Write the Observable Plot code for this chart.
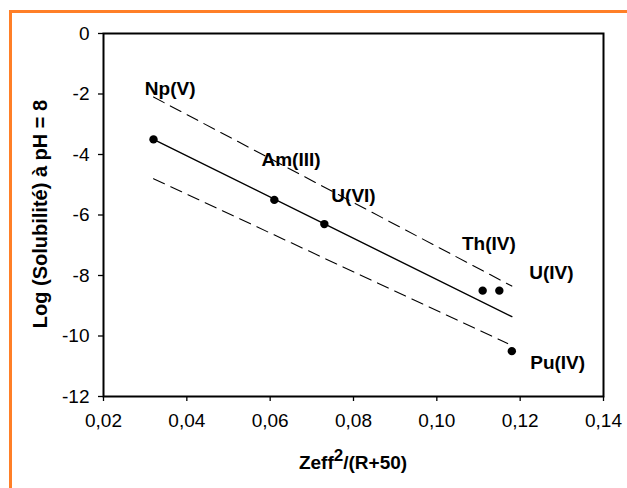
<!DOCTYPE html>
<html>
<head>
<meta charset="utf-8">
<script src="https://cdn.jsdelivr.net/npm/d3@7"></script>
<script src="https://cdn.jsdelivr.net/npm/@observablehq/plot@0.6"></script>
<style>
  html, body { margin: 0; padding: 0; background: #fff; }
  #wrap { position: relative; width: 627px; height: 488px; overflow: hidden; }
  #border { position: absolute; left: 9px; top: 10px; right: -10px; bottom: -10px;
            border-left: 3px solid #ff7f27; border-top: 3px solid #ff7f27; }
  #chart { position: absolute; left: 0; top: 0; }
</style>
</head>
<body>
<div id="wrap"><div id="border"></div><div id="chart"></div></div>
<script>
// Data points
const elements = ["Np(V)", "Am(III)", "U(VI)", "Th(IV)", "U(IV)", "Pu(IV)"];
const zeffRatio = [0.032, 0.061, 0.073, 0.111, 0.115, 0.118];
const logSolubility = [-3.5, -5.5, -6.3, -8.5, -8.5, -10.5];

// Label anchor positions (data units)
const labelX = [0.036, 0.065, 0.080, 0.1125, 0.1275, 0.129];
const labelY = [-1.82, -4.17, -5.36, -6.94, -7.9, -10.88];

// Regression line and confidence band end points
const fitX = [0.032, 0.118];
const fitY = [-3.5, -9.36];
const upperX = [0.032, 0.118];
const upperY = [-2.1, -8.35];
const lowerX = [0.032, 0.117];
const lowerY = [-4.8, -10.25];

// Ticks
const xTicks = [0.02, 0.04, 0.06, 0.08, 0.10, 0.12, 0.14];
const yTicks = [0, -2, -4, -6, -8, -10, -12];

const points = elements.map((e, i) => ({ e, x: zeffRatio[i], y: logSolubility[i] }));
const labels = elements.map((e, i) => ({ e, x: labelX[i], y: labelY[i] }));
const fit = fitX.map((x, i) => ({ x, y: fitY[i] }));
const upper = upperX.map((x, i) => ({ x, y: upperY[i] }));
const lower = lowerX.map((x, i) => ({ x, y: lowerY[i] }));

const xFmt = d => d3.format(".2f")(d).replace(".", ",");
const yFmt = d => String(d);

const chart = Plot.plot({
  width: 627,
  height: 488,
  marginLeft: 103,
  marginRight: 24,
  marginTop: 33,
  marginBottom: 92,
  style: { fontFamily: "'Liberation Sans', Arial, sans-serif", fontSize: "19px", color: "black", background: "transparent", overflow: "visible" },
  x: { domain: [0.02, 0.14], label: null },
  y: { domain: [-12, 0], label: null },
  marks: [
    Plot.axisX({ ticks: xTicks, tickFormat: xFmt, tickSize: 5, tickPadding: 12, fontSize: 19, label: null, strokeWidth: 1.3 }),
    Plot.axisY({ ticks: yTicks, tickFormat: yFmt, tickSize: 5, tickPadding: 9, fontSize: 19, label: null, strokeWidth: 1.3 }),
    Plot.frame({ stroke: "black", strokeWidth: 2 }),
    Plot.line(fit, { x: "x", y: "y", stroke: "black", strokeWidth: 1.4 }),
    Plot.line(upper, { x: "x", y: "y", stroke: "black", strokeWidth: 1.1, strokeDasharray: "12,7" }),
    Plot.line(lower, { x: "x", y: "y", stroke: "black", strokeWidth: 1.1, strokeDasharray: "12,7" }),
    Plot.dot(points, { x: "x", y: "y", r: 4.2, fill: "black", stroke: "none" }),
    Plot.text(labels, { x: "x", y: "y", text: "e", fontWeight: "bold", fontSize: 19, fill: "black" })
  ]
});

const svg = d3.select(chart);
// X axis title with superscript
const xt = svg.append("text")
  .attr("x", 353).attr("y", 469)
  .attr("text-anchor", "middle")
  .attr("font-weight", "bold").attr("font-size", 19).attr("fill", "black");
xt.append("tspan").text("Zeff");
xt.append("tspan").attr("dy", -8).attr("font-size", 17).text("2");
xt.append("tspan").attr("dy", 8).text("/(R+50)");
// Y axis title
svg.append("text")
  .attr("transform", "translate(40,214) rotate(-90)")
  .attr("text-anchor", "middle").attr("dy", "0.35em")
  .attr("font-weight", "bold").attr("font-size", 20).attr("fill", "black")
  .text("Log (Solubilité) à pH = 8");

document.getElementById("chart").appendChild(chart);
</script>
</body>
</html>
